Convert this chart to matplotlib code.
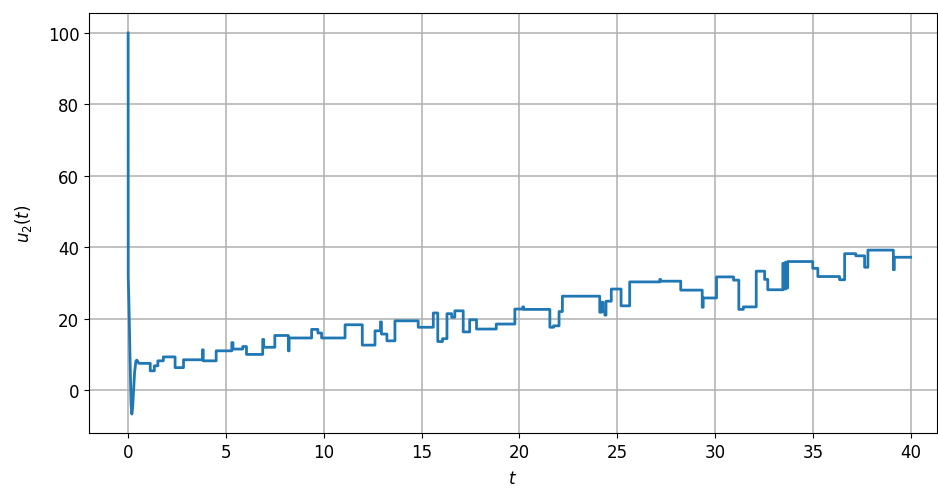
import matplotlib
matplotlib.use("Agg")
import matplotlib.pyplot as plt
import numpy as np

# --- Data ---
# fast initial transient (plain line)
t_transient = [0.0, 0.0, 0.005, 0.05, 0.10, 0.15, 0.19, 0.23, 0.28, 0.33, 0.40, 0.45, 0.55]
u_transient = [100.0, 100.0, 32.0, 22.0, 8.0, -4.0, -6.7, -5.0, 0.0, 5.0, 8.2, 8.4, 7.5]

# piecewise-constant part: each level holds from its start time to the next one
t_steps = [0.55, 1.13, 1.34, 1.52, 1.80, 2.40, 2.83, 3.80, 3.84, 4.50,
           5.30, 5.36, 5.86, 6.05, 6.88, 6.93, 7.50, 8.19, 8.23, 9.38,
           9.70, 9.89, 11.09, 11.97, 12.62, 12.90, 12.95, 13.23, 13.64, 14.83,
           15.60, 15.83, 16.07, 16.30, 16.54, 16.70, 17.13, 17.46, 17.81, 18.82,
           19.77, 20.17, 20.22, 21.56, 21.75, 22.03, 22.20, 24.11, 24.20, 24.28,
           24.37, 24.43, 24.70, 25.20, 25.64, 27.18, 27.22, 28.25, 29.35, 29.40,
           30.08, 30.95, 31.22, 31.45, 32.11, 32.54, 32.70, 33.47, 33.53, 33.60,
           33.66, 33.72, 35.00, 35.26, 36.37, 36.63, 37.20, 37.65, 37.82, 39.12,
           39.17]
u_steps = [7.5, 5.4, 6.8, 8.2, 9.3, 6.3, 8.5, 11.3, 8.2, 11.0,
           13.3, 11.5, 12.2, 10.0, 14.2, 12.0, 15.3, 11.0, 14.6, 17.0,
           16.0, 14.6, 18.3, 12.6, 16.6, 19.1, 15.7, 13.8, 19.4, 17.6,
           21.6, 13.6, 14.4, 21.4, 20.4, 22.2, 16.3, 19.7, 17.1, 18.5,
           22.7, 23.3, 22.6, 17.6, 18.0, 22.0, 26.3, 21.8, 24.6, 22.0,
           21.0, 24.9, 28.3, 23.6, 30.3, 31.0, 30.5, 28.0, 23.2, 25.8,
           31.7, 30.8, 22.6, 23.3, 33.3, 31.0, 28.1, 35.5, 28.3, 35.8,
           28.6, 36.0, 34.1, 31.8, 30.9, 38.2, 37.6, 34.4, 39.2, 33.7,
           37.2]
t_final = 40.0

# --- Build path ---
edges = t_steps[1:] + [t_final]
step_t = np.ravel(np.column_stack([t_steps, edges]))
step_u = np.repeat(u_steps, 2)
t = np.concatenate([t_transient, step_t])
u = np.concatenate([u_transient, step_u])

# --- Plot ---
plt.rcParams["font.size"] = 12
fig = plt.figure(figsize=(9.38, 4.89), dpi=100)
ax = fig.add_axes([0.0949, 0.1125, 0.904, 0.859])
ax.plot(t, u, color="#1f77b4", linewidth=2.0)

ax.set_xlim(-2.0, 41.35)
ax.set_ylim(-12.0, 105.6)
ax.set_xticks(np.arange(0, 41, 5))
ax.set_yticks(np.arange(0, 101, 20))
ax.set_xlabel("$t$", labelpad=6)
ax.set_ylabel("$u_2(t)$", labelpad=10)
ax.grid(True, color="#b0b0b0", linewidth=1.1)

fig.savefig("out.png", dpi=100)
